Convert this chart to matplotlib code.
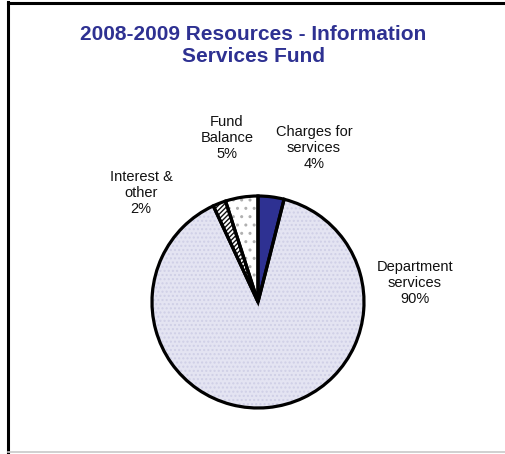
import matplotlib.pyplot as plt
from matplotlib.lines import Line2D

# Resources by source, percent of total
categories = ["Charges for\nservices", "Department\nservices", "Interest &\nother", "Fund\nBalance"]
shares = [4, 90, 2, 5]
share_labels = ["4%", "90%", "2%", "5%"]

fill_colors = ["#2e3192", "#e4e4f2", "#ffffff", "#ffffff"]
hatch_colors = ["#2e3192", "#cfcfe6", "#111111", "#b0b0b0"]
hatches = [None, "....", "///////", ".."]

W, H = 505, 454
fig = plt.figure(figsize=(W / 100, H / 100), dpi=100)

# frame lines: left and top black, bottom thin grey
fig.add_artist(Line2D([8 / W, 8 / W], [0, 1 - 2 / H], color="black", lw=2.2, transform=fig.transFigure))
fig.add_artist(Line2D([8 / W, 1], [1 - 3 / H, 1 - 3 / H], color="black", lw=2.2, transform=fig.transFigure))
fig.add_artist(Line2D([8 / W, 1], [2 / H, 2 / H], color="#c8c8c8", lw=1.2, transform=fig.transFigure))

fig.text(253 / W, 1 - 46 / H, "2008-2009 Resources - Information\nServices Fund",
         ha="center", va="center", fontsize=15, fontweight="bold", color="#2e3192",
         family="Liberation Sans", linespacing=1.2)

cx, cy, r = 258, 302, 106
ax = fig.add_axes([(cx - r) / W, (H - cy - r) / H, 2 * r / W, 2 * r / H])

# base fill, then hatch texture, then black outlines
wedges, _ = ax.pie(shares, colors=fill_colors, startangle=90, counterclock=False,
                   wedgeprops=dict(linewidth=0, edgecolor="none"))
tex, _ = ax.pie(shares, startangle=90, counterclock=False,
                wedgeprops=dict(linewidth=0, facecolor="none"))
for w, hc, hp in zip(tex, hatch_colors, hatches):
    w.set_edgecolor(hc)
    w.set_hatch(hp)
ax.pie(shares, startangle=90, counterclock=False,
       wedgeprops=dict(linewidth=2.3, edgecolor="black", facecolor="none", joinstyle="miter"))
ax.set_xlim(-1.0, 1.0)
ax.set_ylim(-1.0, 1.0)
ax.set_aspect("equal")
ax.axis("off")

# label centres in pixels
label_pos = [(314, 148), (415, 283), (141, 193), (227, 138)]
for name, pct, (x, y) in zip(categories, share_labels, label_pos):
    fig.text(x / W, 1 - y / H, f"{name}\n{pct}", ha="center", va="center",
             fontsize=10.5, family=["Liberation Sans Narrow", "Liberation Sans"],
             color="#111111", linespacing=1.15)

fig.savefig("out.png", dpi=100)
